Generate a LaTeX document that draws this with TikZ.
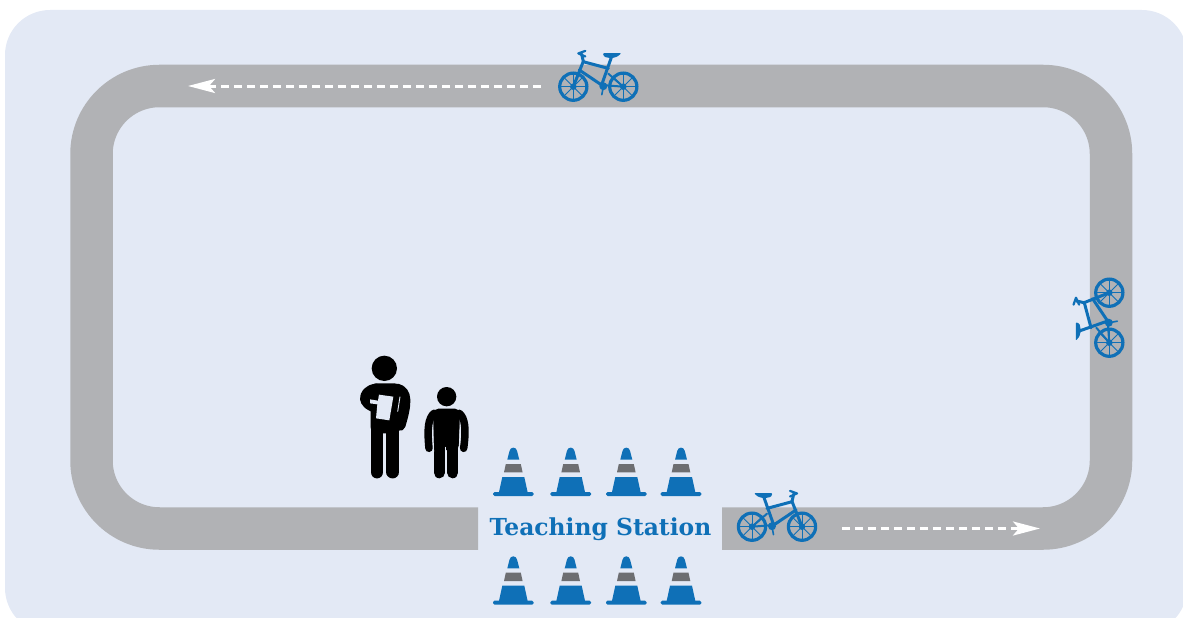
\documentclass[tikz,border=0pt]{standalone}
\usepackage{fontspec}
\usepackage{tikz}
\usetikzlibrary{arrows.meta}
\newfontfamily\stationfont{DejaVu Serif}[BoldFont={DejaVu Serif Bold}]
\definecolor{bgblue}{HTML}{E3E9F5}
\definecolor{trackgray}{HTML}{B1B2B5}
\definecolor{bikeblue}{HTML}{0F70B7}
\definecolor{conegray}{HTML}{6D6E71}

\begin{document}
\begin{tikzpicture}[
    x=1pt, y=-1pt,
    track/.style={draw=trackgray, line width=42.5pt, rounded corners=68pt},
    route/.style={white, line width=3pt, dash pattern=on 8pt off 5pt, -{Stealth[length=27pt, width=14pt, inset=6pt, sep=0pt]}},
    frame/.style={draw=bikeblue, line width=3pt, line cap=round, line join=round},
    bike/.pic={
        \foreach \wx in {-25,25} {
            \draw[bikeblue, line width=3.2pt] (\wx,0) circle (13.6);
            \foreach \ang in {0,45,...,315}
                \draw[bikeblue, line width=0.9pt] (\wx,0) -- ++(\ang:13);
            \fill[bikeblue] (\wx,0) circle (3.3);
        }
        \draw[frame] (25,0) -- (15,-25.3) -- (16.7,-32.7);
        \draw[frame] (15,-25) -- (-10,-18.3);
        \draw[frame] (-13.3,-30) -- (-3.3,-1.7) -- (19,-16.7);
        \draw[frame, line width=2pt] (-3.3,-1.7) -- (-25,0) -- (-10,-13);
        \fill[bikeblue, rounded corners=1pt] (-23,-33.5) -- (-4.5,-33.5) -- (-6,-29.8) -- (-13,-28.4) -- (-19,-30) -- cycle;
        \draw[frame, line width=2.2pt] (13,-30.2) -- (20,-33.3) -- (13,-35.8);
        \fill[bikeblue] (-5,-0.5) circle (4);
        \draw[frame, line width=1.6pt] (-5,0) -- (-3.5,8);
    },
    cone/.pic={
        \fill[bikeblue, rounded corners=1.5pt] (-20.3,-2) rectangle (20.3,2);
        \fill[bikeblue] (-14.5,-1) -- (-11,-17) -- (11,-17) -- (14.5,-1) -- cycle;
        \fill[conegray] (-9.3,-21.7) -- (-7.5,-30) -- (7.5,-30) -- (9.3,-21.7) -- cycle;
        \fill[bikeblue] (-6,-34.3) -- (-3.8,-43) .. controls (-3,-47.5) and (3,-47.5) .. (3.8,-43) -- (6,-34.3) -- cycle;
    },
    man/.pic={
        \begin{scope}[scale=1/3]
        \fill (103,55) circle (38);
        \draw[line width=12.9pt, line cap=round] (81,235) -- (81,366);
        \draw[line width=12.9pt, line cap=round] (128,235) -- (128,366);
        \fill[rounded corners=6pt] (62,250) -- (62,100) -- (150,100) -- (150,250) -- cycle;
        \draw[line width=11pt, line cap=round, line join=round] (80,117) .. controls (55,120) and (44,135) .. (47,150) .. controls (52,165) and (80,176) .. (105,176);
        \draw[line width=11pt, line cap=round] (140,117) .. controls (172,125) and (170,160) .. (150,226);
        \draw[bgblue, line width=0.9pt] (150,140) -- (143,185);
        \fill[bgblue] (87,134) -- (130,140) -- (118,211) -- (78,205) -- (82,163) -- (60,160) -- (60,148) -- (84,152) -- cycle;
        \end{scope}
    },
    child/.pic={
        \begin{scope}[scale=1/3]
        \fill (290,140) circle (29);
        \fill[rounded corners=5pt] (250,176) -- (330,176) -- (327,300) -- (250,300) -- cycle;
        \draw[line width=11.3pt, line cap=round] (268,290) -- (268,368);
        \draw[line width=11.3pt, line cap=round] (308,290) -- (308,368);
        \draw[bgblue, line width=0.8pt] (287,290) -- (287,385);
        \draw[bgblue, line width=0.8pt] (248,225) -- (251,305);
        \draw[bgblue, line width=0.8pt] (331,225) -- (327,305);
        \draw[line width=7.5pt, line cap=round] (252,190) .. controls (235,205) and (231,235) .. (237,295);
        \draw[line width=7.5pt, line cap=round] (328,190) .. controls (345,205) and (349,235) .. (341,295);
        \end{scope}
    }
]
\useasboundingbox (0,0) rectangle (1183,618);
\fill[bgblue, rounded corners=45pt] (5,10) rectangle (1187,633);

\draw[track] (478,528.5) -- (91.5,528.5) -- (91.5,86) -- (1111,86) -- (1111,528.5) -- (722,528.5);

\coordinate (topstart) at (541,86);
\coordinate (topend) at (188,86);
\coordinate (lowstart) at (842,528.5);
\coordinate (lowend) at (1040,528.5);
\draw[route] (topstart) -- (topend);
\draw[route] (lowstart) -- (lowend);

\pic (bikeTop) at (598.3,86.7) [xscale=-1] {bike};
\pic (bikeLow) at (777,526.7) {bike};
\pic (bikeSide) at (1109.3,317.7) [rotate=90] {bike};

\foreach \cx [count=\ci] in {513.3,570.7,626.3,681} {
    \pic (coneUp\ci) at (\cx,494) {cone};
    \pic (coneDown\ci) at (\cx,602.7) {cone};
}

\node[font=\stationfont\bfseries\fontsize{23.4}{26}\selectfont, text=bikeblue, inner sep=0pt] (station) at (600.5,529.5) {Teaching Station};

\pic (teacher) at (350,350) {man};
\pic (pupil) at (350,350) {child};
\end{tikzpicture}
\end{document}
